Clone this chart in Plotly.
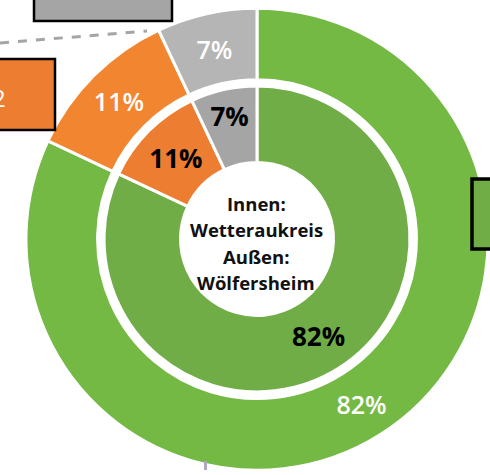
"""Doppel-Donut: Innen Wetteraukreis, Außen Wölfersheim."""
import plotly.graph_objects as go

# --- Daten -----------------------------------------------------------------
categories = ["Gruppe 1", "Gruppe 2", "Gruppe 3"]
inner_values = [82, 11, 7]   # Wetteraukreis
outer_values = [82, 11, 7]   # Wölfersheim

inner_colors = ["#70AD47", "#ED7D31", "#A5A5A5"]
outer_colors = ["#74B944", "#F2852F", "#B5B5B5"]

center_lines = ["Innen:", "Wetteraukreis", "Außen:", "Wölfersheim"]

FONT = "Open Sans"
W, H = 490, 475

fig = go.Figure()

# äußerer Ring
fig.add_trace(go.Pie(
    labels=categories, values=outer_values,
    hole=0.69, sort=False, direction="clockwise", rotation=0,
    domain=dict(x=[0.053, 0.996], y=[0.010, 0.983]),
    marker=dict(colors=outer_colors, line=dict(color="white", width=3)),
    texttemplate="%{percent:.0%}", textposition="inside",
    insidetextorientation="horizontal",
    textfont=dict(family=FONT, size=25, color="white", weight=600),
    hoverinfo="label+percent", showlegend=False,
))

# innerer Ring
fig.add_trace(go.Pie(
    labels=categories, values=inner_values,
    hole=0.50, sort=False, direction="clockwise", rotation=0,
    domain=dict(x=[0.212, 0.837], y=[0.175, 0.819]),
    marker=dict(colors=inner_colors, line=dict(color="white", width=3)),
    texttemplate="<b>%{percent:.0%}</b>", textposition="inside",
    insidetextorientation="horizontal",
    textfont=dict(family=FONT, size=26, color="black"),
    hoverinfo="label+percent", showlegend=False,
))

# Beschriftung in der Mitte
for i, line in enumerate(center_lines):
    fig.add_annotation(
        x=256 / W, y=(475 - 203 - 26.5 * i) / H, xref="paper", yref="paper",
        text=f"<b>{line}</b>", showarrow=False,
        font=dict(family=FONT, size=18.5, color="#111111"),
        xanchor="center", yanchor="middle",
    )

# abgeschnittene Datenbeschriftungen (Kästen am Rand)
def px_rect(x0, y0, x1, y1, fill, lw=2.5, color="black"):
    fig.add_shape(
        type="rect", xref="paper", yref="paper",
        x0=x0 / W, x1=x1 / W, y0=1 - y1 / H, y1=1 - y0 / H,
        fillcolor=fill, line=dict(color=color, width=lw), layer="above",
    )

px_rect(34, -8, 172, 21, "#A5A5A5")
px_rect(-12, 59, 55, 130, "#ED7D31")
px_rect(472, 179, 500, 249, "#70AD47", lw=3.5)
px_rect(204, 461, 207, 470, "#B0A8B8", lw=0, color="#B0A8B8")

fig.add_annotation(
    x=8 / W, y=1 - 97 / H, xref="paper", yref="paper", text="2",
    showarrow=False, xanchor="right", yanchor="middle",
    font=dict(family=FONT, size=24, color="white"),
)

# Führungslinie
fig.add_shape(
    type="line", xref="paper", yref="paper",
    x0=0, y0=1 - 43 / H, x1=147 / W, y1=1 - 31 / H,
    line=dict(color="#A5A5A5", width=3, dash="dash"),
)

fig.update_layout(
    width=W, height=H,
    margin=dict(l=0, r=0, t=0, b=0),
    paper_bgcolor="white", plot_bgcolor="white",
    showlegend=False,
)

fig.write_html(
    "out.html",
    config={"displayModeBar": False},
    post_script="document.body.style.margin='0';",
)
